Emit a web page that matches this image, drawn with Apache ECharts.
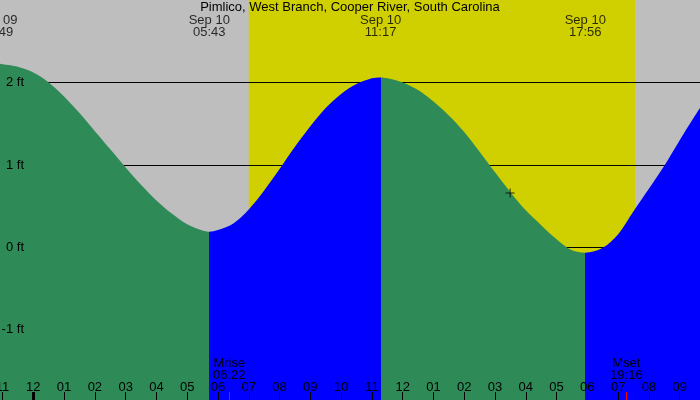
<!DOCTYPE html>
<html>
<head>
<meta charset="UTF-8">
<title>Pimlico tides</title>
<script src="https://cdn.jsdelivr.net/npm/echarts@6/dist/echarts.min.js"></script>
</head>
<body style="margin:0">
<div id="chart" style="width:700px;height:400px"></div>
<script>
// times are hours after midnight, Sep 10; heights in feet
var tideTimes = [-1.5, -1.183, -1.0, -0.5, 0, 0.5, 1.0, 1.5, 2.0, 2.5, 3.0, 3.5, 4.0, 4.5, 5.0, 5.5, 5.717,
                 6.0, 6.5, 7.0, 7.5, 8.0, 8.5, 9.0, 9.5, 10.0, 10.5, 11.0, 11.283,
                 11.5, 12.0, 12.5, 13.0, 13.5, 14.0, 14.5, 15.0, 15.5, 16.0, 16.5, 17.0, 17.5, 17.933,
                 18.5, 19.0, 19.5, 20.0, 20.5, 21.0, 21.5, 22.0];
var tideHeights = [2.22, 2.23, 2.22, 2.19, 2.12, 2.00, 1.83, 1.63, 1.41, 1.19, 0.97, 0.76, 0.57, 0.41, 0.28, 0.205, 0.19,
                   0.21, 0.29, 0.46, 0.69, 0.95, 1.22, 1.47, 1.69, 1.86, 1.98, 2.05, 2.06,
                   2.05, 2.00, 1.91, 1.77, 1.60, 1.40, 1.16, 0.91, 0.67, 0.45, 0.27, 0.10, -0.035, -0.065,
                   -0.005, 0.16, 0.44, 0.71, 0.99, 1.30, 1.60, 1.88];

var extremeTimes = [-1.183, 5.717, 11.283, 17.933];
var extremeTypes = ['high', 'low', 'high', 'low'];
var extremeDays = ['Sep 09', 'Sep 10', 'Sep 10', 'Sep 10'];
var extremeClock = ['22:49', '05:43', '11:17', '17:56'];

var sunTimes = [7.0, 19.55];          // sunrise, sunset
var moonTimes = [6.367, 19.267];
var moonNames = ['Mrise', 'Mset'];
var moonClock = ['06:22', '19:16'];
var nowPoint = [15.49, 0.66];

var hourTicks = [-1, 0, 1, 2, 3, 4, 5, 6, 7, 8, 9, 10, 11, 12, 13, 14, 15, 16, 17, 18, 19, 20, 21];
var hourLabels = ['11', '12', '01', '02', '03', '04', '05', '06', '07', '08', '09', '10', '11',
                  '12', '01', '02', '03', '04', '05', '06', '07', '08', '09'];
var heightTicks = [-1, 0, 1, 2];

var X_MIN = -1.082, X_MAX = 21.66;
var Y_MIN = -1.85, Y_MAX = 3.0;
var FONT = 'Liberation Sans';
var GREEN = '#2E8B57', BLUE = '#0000FF';

var chart = echarts.init(document.getElementById('chart'));

// falling tide green, rising tide blue
var pieces = [{ lt: extremeTimes[0], color: extremeTypes[0] === 'high' ? BLUE : GREEN }];
for (var i = 0; i < extremeTimes.length; i++) {
    var p = { gte: extremeTimes[i], color: extremeTypes[i] === 'high' ? GREEN : BLUE };
    if (i + 1 < extremeTimes.length) p.lt = extremeTimes[i + 1];
    pieces.push(p);
}

var midnights = hourTicks.filter(function (h) { return h % 24 === 0; });

function xAxisBase() {
    return {
        type: 'value', min: X_MIN, max: X_MAX, position: 'bottom', z: 5,
        axisLine: { show: false, onZero: false }, splitLine: { show: false }
    };
}

var ax0 = xAxisBase();
ax0.axisTick = { show: true, inside: true, length: 8, customValues: hourTicks, lineStyle: { color: '#000', width: 1 } };
ax0.axisLabel = {
    inside: true, margin: 6, customValues: hourTicks, color: '#000', fontFamily: FONT, fontSize: 13,
    formatter: function (v) { return hourLabels[hourTicks.indexOf(v)]; }
};
var ax1 = xAxisBase();
ax1.axisTick = { show: true, inside: true, length: 8, customValues: midnights, lineStyle: { color: '#000', width: 3 } };
ax1.axisLabel = { show: false };
var ax2 = xAxisBase();
ax2.axisTick = { show: true, inside: true, length: 8, customValues: moonTimes, lineStyle: { color: '#FF0000', width: 1 } };
ax2.axisLabel = {
    inside: true, margin: 19, customValues: moonTimes, color: '#000', fontFamily: FONT, fontSize: 13, lineHeight: 12,
    formatter: function (v) { var k = moonTimes.indexOf(v); return moonNames[k] + '\n' + moonClock[k]; }
};

chart.setOption({
    animation: false,
    title: {
        text: 'Pimlico, West Branch, Cooper River, South Carolina',
        left: 'center', top: 1, padding: 0,
        textStyle: { fontFamily: FONT, fontSize: 13, fontWeight: 'normal', color: '#000', lineHeight: 13 }
    },
    grid: {
        left: 0, right: 0, top: 0, bottom: 0, outerBoundsMode: 'none',
        show: true, backgroundColor: '#BEBEBE', borderWidth: 0
    },
    xAxis: [ax0, ax1, ax2],
    yAxis: [{
        type: 'value', min: Y_MIN, max: Y_MAX, position: 'left', z: 2,
        axisLine: { show: false, onZero: false },
        axisTick: { show: false, customValues: heightTicks },
        axisLabel: { show: false },
        splitLine: { show: true, lineStyle: { color: '#000', width: 1 } }
    }, {
        type: 'value', min: Y_MIN, max: Y_MAX, position: 'left', z: 5,
        axisLine: { show: false, onZero: false },
        axisTick: { show: false, customValues: heightTicks },
        splitLine: { show: false },
        axisLabel: {
            inside: true, align: 'right', margin: 24, customValues: heightTicks,
            formatter: '{value} ft', color: '#000', fontFamily: FONT, fontSize: 13
        }
    }],
    visualMap: { type: 'piecewise', show: false, dimension: 0, seriesIndex: 0, pieces: pieces },
    series: [{
        type: 'line',
        z: 3,
        smooth: 0.3,
        symbol: 'none',
        silent: true,
        lineStyle: { width: 0 },
        areaStyle: { opacity: 1, origin: 'start' },
        data: tideTimes.map(function (t, i) { return [t, tideHeights[i]]; }),
        markArea: {
            silent: true,
            itemStyle: { color: '#D0D000' },
            data: [[{ xAxis: sunTimes[0] }, { xAxis: sunTimes[1] }]]
        }
    }, {
        type: 'scatter',
        z: 6,
        silent: true,
        clip: false,
        symbolSize: 0,
        data: extremeTimes.map(function (t) { return [t, Y_MAX]; }),
        label: {
            show: true, position: 'bottom', distance: 14, lineHeight: 12,
            color: '#000', fontFamily: FONT, fontSize: 13,
            formatter: function (p) { return extremeDays[p.dataIndex] + '\n' + extremeClock[p.dataIndex]; }
        }
    }, {
        type: 'scatter',
        z: 6,
        silent: true,
        symbol: 'path://M0,4H9V5H0Z M4,0H5V9H4Z',
        symbolSize: 9,
        itemStyle: { color: '#000' },
        data: [nowPoint]
    }]
});
</script>
</body>
</html>
